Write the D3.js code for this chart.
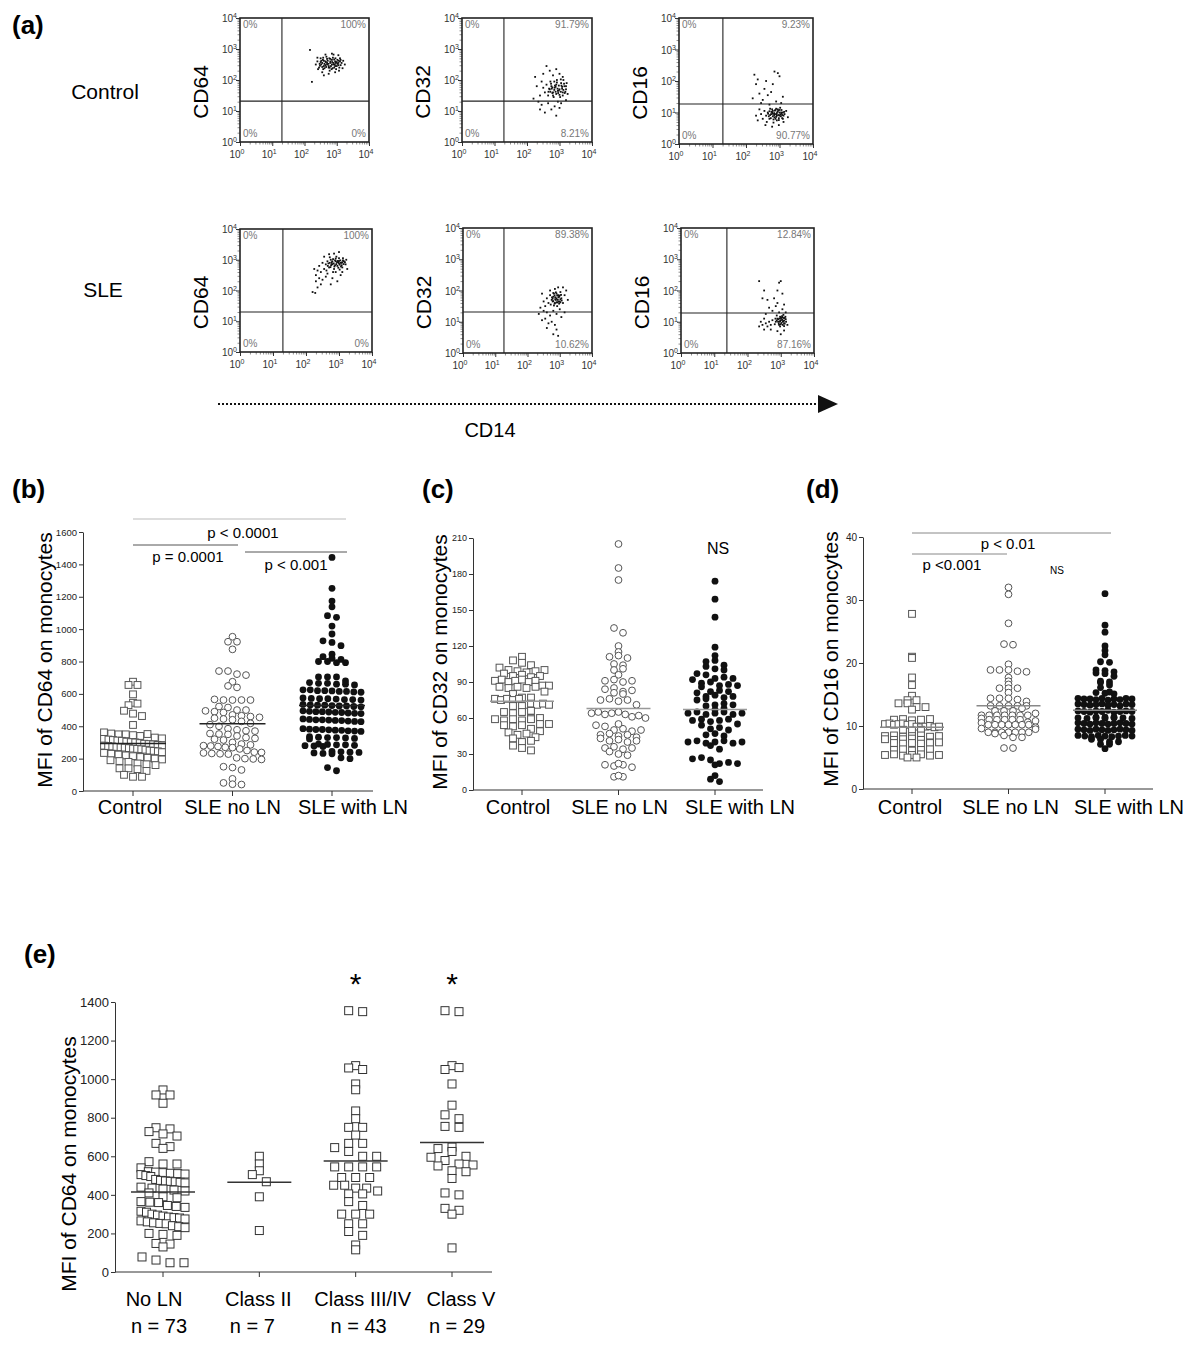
<!DOCTYPE html>
<html lang="en">
  <head>
    <meta charset="UTF-8" />
    <title>CD64 / CD32 / CD16 on monocytes</title>
    <script src="https://d3js.org/d3.v7.min.js"></script>
    <style>
      body { margin: 0; background: #fff; }
      text { font-family: "Liberation Sans", Arial, Helvetica, sans-serif; }
    </style>
  </head>
  <body>
    <script>
      // ---------- data: (a) flow cytometry, log10 units [CD14, marker] ----------
      const fcCtrlCD64 = [[2.55,2.55],[2.6,2.45],[2.65,2.6],[2.7,2.5],[2.75,2.4],[2.8,2.55],[2.85,2.65],[2.9,2.5],[2.95,2.6],[3.0,2.45],[3.05,2.55],[3.1,2.7],[2.5,2.7],[2.45,2.4],[2.4,2.6],[2.58,2.35],[2.68,2.75],[2.78,2.3],[2.88,2.72],[2.98,2.35],[3.08,2.4],[3.15,2.55],[3.2,2.62],[2.52,2.5],[2.62,2.52],[2.72,2.62],[2.82,2.45],[2.92,2.4],[3.02,2.65],[3.12,2.48],[2.47,2.52],[2.57,2.65],[2.67,2.42],[2.77,2.7],[2.87,2.38],[2.97,2.55],[3.07,2.3],[2.42,2.35],[2.55,2.25],[2.75,2.2],[2.95,2.25],[3.05,2.8],[2.65,2.82],[2.85,2.85],[2.35,2.5],[3.25,2.5],[2.17,2.97],[2.23,1.94],[2.6,2.15],[2.9,2.82],[2.4,2.72],[3.18,2.38],
        [2.5,2.58],[2.6,2.62],[2.7,2.55],[2.8,2.6],[2.9,2.55],[3.0,2.58],[3.1,2.6],[2.55,2.42],[2.65,2.48],[2.75,2.45],[2.85,2.5],[2.95,2.45],[3.05,2.48],[2.58,2.72],[2.7,2.68],[2.8,2.68],[2.92,2.66],[3.02,2.52],[2.62,2.38],[2.84,2.35],[2.96,2.7],[3.12,2.65],[2.52,2.62],[2.74,2.52],[2.86,2.58],[2.66,2.58],[3.06,2.62],[2.94,2.5],[2.78,2.4],[2.48,2.46]];
      const fcCtrlCD32 = [[2.7,1.7],[2.75,1.8],[2.8,1.6],[2.85,1.75],[2.9,1.85],[2.95,1.65],[3.0,1.7],[3.05,1.9],[3.1,1.6],[3.15,1.8],[3.2,1.7],[3.25,1.55],[2.65,1.5],[2.72,1.95],[2.82,1.45],[2.92,2.0],[3.02,1.45],[3.12,2.0],[3.22,1.9],[2.6,1.85],[2.55,1.6],[2.5,1.75],[2.45,1.95],[2.4,1.5],[2.35,1.3],[2.3,1.8],[2.25,2.1],[2.2,1.4],[2.5,2.2],[2.7,2.3],[2.9,2.35],[2.6,2.45],[3.0,2.2],[2.8,2.15],[3.1,2.1],[2.45,1.2],[2.65,1.25],[2.85,1.15],[2.95,1.3],[3.05,1.25],[3.2,1.35],[2.75,1.05],[2.55,0.95],[2.9,0.85],[2.4,1.05],[3.0,1.1],[2.88,1.62],[2.98,1.82],[3.08,1.72],[2.78,1.58],[3.18,1.62],[2.68,1.72],
        [2.72,1.62],[2.76,1.72],[2.84,1.68],[2.86,1.82],[2.94,1.72],[2.96,1.58],[3.04,1.62],[3.06,1.82],[3.12,1.68],[3.14,1.88],[2.74,1.88],[2.8,1.5],[2.9,1.55],[3.0,1.52],[3.1,1.5],[3.2,1.8],[2.66,1.62],[2.92,1.92],[3.04,2.02],[2.84,1.95],[3.16,1.58],[2.98,1.66],[2.88,1.78],[3.08,1.78],[2.78,1.76]];
      const fcCtrlCD16 = [[2.6,0.9],[2.65,1.0],[2.7,0.8],[2.75,0.95],[2.8,1.05],[2.85,0.85],[2.9,0.95],[2.95,1.1],[3.0,0.9],[3.05,1.0],[3.1,0.8],[3.15,0.95],[3.2,1.05],[2.62,0.7],[2.72,1.12],[2.82,0.68],[2.92,0.75],[3.02,1.15],[3.12,0.7],[2.68,0.88],[2.78,1.0],[2.88,1.08],[2.98,0.82],[3.08,0.92],[2.55,1.05],[2.5,0.8],[2.45,0.95],[2.4,1.1],[2.35,0.75],[2.3,0.9],[2.58,0.6],[2.78,0.55],[2.98,0.6],[3.25,0.85],[2.7,1.25],[2.9,1.35],[3.05,1.3],[2.5,1.4],[2.4,1.6],[2.3,1.9],[2.25,2.2],[2.35,2.05],[2.55,1.75],[2.65,1.55],[2.8,1.9],[2.85,2.3],[2.95,2.25],[3.0,2.15],[2.6,2.0],[2.75,1.65],[3.1,1.5],[2.45,1.3],[2.2,1.45],[2.92,0.98],[2.84,0.92],
        [2.72,0.92],[2.76,1.02],[2.8,0.88],[2.84,0.98],[2.86,1.06],[2.9,0.86],[2.94,1.02],[2.96,0.92],[3.0,1.0],[3.04,0.88],[3.06,1.08],[3.1,1.0],[3.12,0.9],[2.74,0.82],[2.82,0.78],[2.88,0.8],[2.98,0.76],[3.08,0.82],[2.7,1.04],[2.78,1.1],[2.9,1.12],[3.0,1.08],[3.14,1.02],[2.66,0.96],[2.86,0.94],[2.96,1.06],[3.02,0.94],[2.8,0.96],[2.92,0.9],[3.06,0.96]];
      const fcSleCD64 = [[2.6,2.85],[2.65,2.95],[2.7,2.75],[2.75,3.0],[2.8,2.85],[2.85,2.7],[2.9,2.95],[2.95,2.8],[3.0,3.05],[3.05,2.9],[3.1,2.75],[3.15,2.95],[3.2,2.85],[2.62,2.65],[2.72,3.08],[2.82,2.6],[2.92,3.1],[3.02,2.68],[3.12,3.05],[2.68,2.88],[2.78,2.92],[2.88,2.82],[2.98,2.92],[3.08,2.82],[2.55,2.7],[2.5,2.9],[2.45,2.6],[2.4,2.8],[2.35,2.65],[2.3,2.5],[2.25,2.7],[2.55,3.1],[2.85,3.2],[3.0,3.25],[2.7,3.18],[3.25,2.7],[3.22,3.0],[2.4,2.4],[2.3,2.3],[2.45,2.2],[2.35,2.1],[2.5,2.35],[2.6,2.45],[2.8,2.4],[2.95,2.3],[3.05,2.5],[2.2,1.95],[2.28,1.92],[2.75,2.2],[2.65,2.55],[2.9,2.6],[3.1,2.6],
        [2.72,2.9],[2.76,2.82],[2.8,2.95],[2.84,2.88],[2.88,2.98],[2.92,2.86],[2.96,2.96],[3.0,2.88],[3.04,2.98],[3.08,2.9],[3.12,2.98],[3.14,2.86],[2.74,2.76],[2.86,2.78],[2.98,2.74],[3.06,2.78],[2.9,3.04],[3.0,2.96],[2.82,3.02],[3.1,2.92],[2.94,2.92],[2.78,2.86],[3.02,2.84],[2.66,2.8],[3.18,2.92]];
      const fcSleCD32 = [[2.75,1.7],[2.8,1.8],[2.85,1.6],[2.9,1.75],[2.95,1.85],[3.0,1.65],[3.05,1.75],[2.72,1.55],[2.82,1.9],[2.92,1.5],[3.02,1.95],[3.1,1.6],[2.78,1.65],[2.88,1.7],[2.98,1.8],[2.7,1.85],[2.65,1.6],[2.6,1.75],[2.55,1.5],[2.5,1.65],[2.45,1.9],[3.15,1.85],[3.2,2.0],[3.25,1.7],[2.85,2.05],[2.95,2.1],[2.7,2.0],[3.1,2.1],[2.6,1.3],[2.7,1.2],[2.8,1.35],[2.9,1.25],[3.0,1.4],[2.5,1.35],[2.4,1.45],[2.35,1.25],[2.55,1.1],[2.75,1.0],[2.85,0.9],[2.65,0.95],[2.9,0.75],[2.8,0.6],[2.95,0.55],[2.6,0.8],[3.05,1.15],[3.15,1.3],[2.45,1.05],[2.92,1.62],[2.82,1.52],[3.02,1.72],
        [2.76,1.78],[2.8,1.66],[2.84,1.84],[2.86,1.72],[2.9,1.62],[2.92,1.84],[2.94,1.7],[2.96,1.78],[3.0,1.84],[3.02,1.62],[3.04,1.86],[2.8,1.92],[2.88,1.94],[2.84,1.58],[2.98,1.58],[2.9,1.9],[2.78,1.74],[3.06,1.68],[2.86,1.78],[2.96,1.64]];
      const fcSleCD16 = [[2.85,1.0],[2.9,1.1],[2.95,0.9],[3.0,1.05],[3.05,1.15],[3.1,0.95],[3.15,1.08],[2.88,1.2],[2.98,0.85],[3.08,1.22],[3.2,0.9],[2.92,1.0],[3.02,1.12],[2.82,0.92],[2.75,1.05],[2.7,0.9],[2.65,1.0],[2.6,0.85],[2.55,0.95],[2.5,1.1],[2.45,0.9],[2.4,1.0],[2.35,0.85],[2.5,0.75],[2.7,0.75],[2.9,0.7],[3.1,0.72],[3.0,0.6],[2.95,1.3],[3.05,1.4],[2.85,1.5],[2.75,1.35],[2.9,1.6],[3.1,1.55],[2.8,1.75],[2.6,1.7],[2.45,1.75],[2.5,2.0],[2.35,2.3],[2.95,2.25],[3.0,2.3],[2.9,2.0],[3.05,1.9],[2.65,1.45],[2.55,1.25],[3.15,1.3],[2.98,1.02],[3.08,1.02],[3.12,1.12],
        [2.92,1.08],[2.96,1.0],[3.0,1.12],[3.02,0.96],[3.04,1.06],[3.06,0.9],[3.08,1.12],[3.1,1.04],[3.12,0.94],[3.14,1.16],[2.94,0.94],[2.98,1.16],[3.0,0.92],[3.04,1.18],[3.1,0.86],[2.88,1.04],[2.84,1.1],[3.16,1.0],[2.96,1.1],[3.06,1.0]];
      const fcGates = [[1.3,1.32],[1.29,1.32],[1.31,1.27],[1.3,1.3],[1.27,1.31],[1.38,1.28]];
      const fcPct = [["0%","100%","0%","0%"],["0%","91.79%","0%","8.21%"],["0%","9.23%","0%","90.77%"],
                     ["0%","100%","0%","0%"],["0%","89.38%","0%","10.62%"],["0%","12.84%","0%","87.16%"]];
      const fcMarkers = ["CD64","CD32","CD16","CD64","CD32","CD16"];
      const fcRows = ["Control","SLE"];
      const decades = [0,1,2,3,4];

      // ---------- data: (b)-(d) ----------
      const groups3 = ["Control","SLE no LN","SLE with LN"];
      const cd64Control = [675,655,655,597,545,530,540,496,478,463,408,362,355,350,350,345,340,352,330,325,322,318,315,312,310,305,302,300,296,292,290,288,285,282,280,278,275,272,270,268,265,262,260,258,255,250,248,245,240,235,230,225,220,215,210,205,200,195,190,185,180,170,165,160,140,140,135,124,100,88,88];
      const cd64NoLN = [953,922,922,875,741,741,722,716,675,649,640,566,562,562,562,562,522,516,500,500,495,490,485,470,465,460,455,450,445,440,430,418,410,400,385,378,372,370,355,352,350,340,330,325,320,315,300,290,285,280,278,275,270,268,260,250,240,238,235,232,230,228,205,200,198,195,150,145,130,75,50,42,40];
      const cd64WithLN = [1443,1252,1173,1138,1083,1073,1019,970,928,918,898,845,830,820,813,800,800,793,793,705,705,705,680,670,665,665,660,660,655,625,625,620,620,618,615,615,612,610,575,572,570,570,568,565,565,562,535,532,530,530,528,525,525,522,520,495,492,490,490,488,486,485,482,480,478,445,442,440,440,438,436,435,432,430,428,385,382,380,380,378,376,375,372,370,368,335,332,330,330,328,325,322,290,288,285,285,282,280,278,275,245,242,240,238,235,232,230,205,200,145,125];
      const cd64Medians = [293,415,528];

      const cd32Control = [111,108,106,104,102,100,99,98,99,100,97,95,96,94,95,91,92,90,91,92,90,91,86,87,85,86,87,85,86,82,80,76,77,75,76,77,75,76,71,72,70,71,72,70,71,65,66,64,65,59,60,58,59,60,58,59,54,55,53,54,55,51,48,49,46,47,44,43,40,41,37,35,33];
      const cd32NoLN = [205,185,175,135,131,120,115,111,112,110,105,104,100,101,96,91,92,90,91,84,85,82,83,81,80,75,76,74,75,71,64,65,63,64,65,63,61,62,60,54,55,53,50,51,49,50,46,47,45,46,44,43,41,42,40,41,35,36,34,35,32,30,29,21,22,20,21,19,11,12,11];
      const cd32WithLN = [174,159,144,119,112,107,108,104,103,101,100,97,96,93,94,92,93,89,90,87,88,86,87,82,83,81,82,78,79,77,78,75,76,71,72,70,71,67,68,64,65,63,64,65,63,64,58,59,57,58,59,54,55,51,52,50,46,47,45,40,41,39,40,41,39,40,37,34,26,27,25,22,23,21,22,12,9,7];
      const cd32Medians = [74,68,67];

      const cd16Control = [27.8,21,20.8,17.7,16.5,14.8,14.1,14.1,13.6,13.6,13,13,12.6,11,11.1,10.9,11,11.1,10.3,10.4,10.2,10.3,10.4,10.2,10.3,9.9,9.8,9.9,10,9.8,9.9,9.4,9.3,9.4,8.4,8.5,8.3,8.4,8.5,8.3,8.4,7.9,7.8,7.9,8,7.8,7.3,7.4,7.2,7.3,7.4,7.2,7.3,6.2,6.3,6.1,6.2,6.3,5.4,5.5,5.3,5.4,5.5,5.3,5.4,5,5];
      const cd16NoLN = [32,30.9,26.3,23,22.9,19.8,18.9,18.9,18.9,18.7,18.6,17.7,17.1,16.6,16,16,16,15.3,14.4,14.4,14.4,14.2,13.9,13.2,13.2,13.2,13.2,13.2,12.4,12.4,12.4,11.7,11.7,11.7,11.7,11.7,11.7,11.7,11.2,11,11,11,11,11,10.6,10.5,10.2,10.2,10.2,10.2,10.2,10.2,10.2,9.8,9.6,9,9,9,9,9,9,9,8.8,8.5,8.2,8.2,6.5,6.5,12,12.8,10.8,9.5];
      const cd16WithLN = [31,26,24.9,22.7,22,21.3,20.2,20.1,18.9,18.8,18.6,18.4,18.3,17.9,17.1,17,16.9,16.5,16.1,15.4,15.3,15.2,15.1,
        14.4,14.3,14.3,14.2,14.4,14.1,14.3,14.2,14.4,14.3,13.5,13.4,13.3,13.4,13.5,13.3,13.4,13.2,13.5,13.4,
        12.4,12.3,12.2,12.4,12.3,12.5,12.2,12.3,12.4,12.3,11.4,11.3,11.2,11.4,11.3,11.2,11.3,11.4,11.3,11.2,
        10.5,10.4,10.3,10.5,10.4,10.3,10.4,10.5,10.4,10.3,9.5,9.4,9.3,9.5,9.4,9.3,9.4,9.5,9.4,9.3,
        8.5,8.4,8.3,8.5,8.4,8.3,8.4,8.5,8.4,7.9,7.9,7.5,7.5,7.1,7.1,6.4];
      const cd16Medians = [9.8,13.2,12.5];

      // ---------- data: (e) ----------
      const classes = ["No LN","Class II","Class III/IV","Class V"];
      const classN = ["n = 73","n = 7","n = 43","n = 29"];
      const eNoLN = [944,918,918,875,748,742,728,716,705,667,650,641,572,560,560,540,520,518,515,512,510,508,505,500,495,480,475,472,470,468,465,462,440,435,430,425,420,410,390,385,365,362,360,345,340,335,315,310,300,295,290,285,282,280,275,265,260,255,252,250,240,235,230,200,195,190,148,145,130,78,62,48,48];
      const eClassII = [600,560,525,505,468,390,215];
      const eClassIII = [1355,1350,1070,1058,1050,975,945,835,795,750,750,710,667,667,645,625,600,600,545,545,545,545,490,490,490,450,450,435,435,420,405,405,365,345,300,300,300,250,250,210,190,140,115];
      const eClassV = [1355,1350,1070,1050,1060,975,865,815,795,755,750,648,640,625,600,595,578,560,555,550,525,520,485,410,400,330,320,300,125];
      const eMedians = [415,465,575,672];
      const eStars = ["","","*","*"];

      const svg = d3.select("body").append("svg").attr("width", 1200).attr("height", 1351);
      svg.append("rect").attr("width", 1200).attr("height", 1351).attr("fill", "#fff");

      function panelLabel(txt, x, y) {
        svg.append("text").attr("x", x).attr("y", y).attr("font-size", 26)
          .attr("font-weight", "bold").text(txt);
      }

      // ---------- (a) ----------
      const frames = [
        {x:240,y:18,w:129,h:124},{x:462,y:18,w:130,h:124},{x:679,y:18,w:134,h:126},
        {x:240,y:229,w:132,h:123},{x:463,y:228,w:129,h:125},{x:681,y:228,w:133,h:125}
      ];
      const fcData = [fcCtrlCD64, fcCtrlCD32, fcCtrlCD16, fcSleCD64, fcSleCD32, fcSleCD16];
      const minors = [];
      for (let d = 0; d < 4; d++) for (let k = 2; k < 10; k++) minors.push(d + Math.log10(k));

      function supLabel(sel, exp) {
        sel.append("tspan").text("10");
        sel.append("tspan").attr("dy", -4).attr("font-size", 7).text(exp);
      }

      frames.forEach((f, i) => {
        const x = d3.scaleLinear().domain([0, 4]).range([f.x, f.x + f.w]);
        const y = d3.scaleLinear().domain([0, 4]).range([f.y + f.h, f.y]);
        const g = svg.append("g");

        // minor + major ticks
        g.append("g").attr("transform", `translate(${f.x},0)`)
          .call(d3.axisLeft(y).tickValues(minors).tickSize(2.5).tickFormat("").tickSizeOuter(0))
          .call(a => a.select(".domain").remove()).selectAll("line").attr("stroke", "#444").attr("stroke-width", 0.6);
        g.append("g").attr("transform", `translate(${f.x},0)`)
          .call(d3.axisLeft(y).tickValues(decades).tickSize(4).tickFormat("").tickSizeOuter(0))
          .call(a => a.select(".domain").remove()).selectAll("line").attr("stroke", "#333");
        g.append("g").attr("transform", `translate(0,${f.y + f.h})`)
          .call(d3.axisBottom(x).tickValues(minors).tickSize(2.5).tickFormat("").tickSizeOuter(0))
          .call(a => a.select(".domain").remove()).selectAll("line").attr("stroke", "#444").attr("stroke-width", 0.6);
        g.append("g").attr("transform", `translate(0,${f.y + f.h})`)
          .call(d3.axisBottom(x).tickValues(decades).tickSize(4).tickFormat("").tickSizeOuter(0))
          .call(a => a.select(".domain").remove()).selectAll("line").attr("stroke", "#333");

        decades.forEach(d => {
          supLabel(g.append("text").attr("x", f.x - 3).attr("y", y(d) + 4)
            .attr("text-anchor", "end").attr("font-size", 10).attr("fill", "#333"), d);
          supLabel(g.append("text").attr("x", x(d) - 3).attr("y", f.y + f.h + 16)
            .attr("text-anchor", "middle").attr("font-size", 10).attr("fill", "#333"), d);
        });

        // events
        g.selectAll("rect.ev").data(fcData[i]).join("rect").attr("class", "ev")
          .attr("x", d => x(d[0]) - 0.9).attr("y", d => y(d[1]) - 0.9)
          .attr("width", 1.8).attr("height", 1.8).attr("fill", "#111");

        // quadrant gates
        const [gx, gy] = fcGates[i];
        g.append("line").attr("x1", x(gx)).attr("x2", x(gx)).attr("y1", f.y).attr("y2", f.y + f.h)
          .attr("stroke", "#222").attr("stroke-width", 1.1);
        g.append("line").attr("x1", f.x).attr("x2", f.x + f.w).attr("y1", y(gy)).attr("y2", y(gy))
          .attr("stroke", "#222").attr("stroke-width", 1.1);
        g.append("rect").attr("x", f.x).attr("y", f.y).attr("width", f.w).attr("height", f.h)
          .attr("fill", "none").attr("stroke", "#222").attr("stroke-width", 1.6);

        // quadrant percentages
        const pct = fcPct[i];
        const pctStyle = s => s.attr("font-family", "'DejaVu Sans Mono', monospace")
          .attr("font-size", 10).attr("fill", "#777");
        pctStyle(g.append("text").attr("x", f.x + 3).attr("y", f.y + 10).text(pct[0]));
        pctStyle(g.append("text").attr("x", f.x + f.w - 3).attr("y", f.y + 10).attr("text-anchor", "end").text(pct[1]));
        pctStyle(g.append("text").attr("x", f.x + 3).attr("y", f.y + f.h - 5).text(pct[2]));
        pctStyle(g.append("text").attr("x", f.x + f.w - 3).attr("y", f.y + f.h - 5).attr("text-anchor", "end").text(pct[3]));

        g.append("text").attr("transform", `translate(${f.x - 32},${f.y + f.h / 2 + 12}) rotate(-90)`)
          .attr("text-anchor", "middle").attr("font-size", 21).text(fcMarkers[i]);
      });

      svg.append("text").attr("x", 105).attr("y", 99).attr("text-anchor", "middle").attr("font-size", 21).text(fcRows[0]);
      svg.append("text").attr("x", 103).attr("y", 297).attr("text-anchor", "middle").attr("font-size", 21).text(fcRows[1]);

      // CD14 arrow
      svg.append("line").attr("x1", 218).attr("x2", 820).attr("y1", 404).attr("y2", 404)
        .attr("stroke", "#111").attr("stroke-width", 2).attr("stroke-dasharray", "2,2");
      svg.append("path").attr("d", "M818,395 L838,404 L818,413 Z").attr("fill", "#111");
      svg.append("text").attr("x", 490).attr("y", 437).attr("text-anchor", "middle").attr("font-size", 20).text("CD14");
      panelLabel("(a)", 12, 34);

      // ---------- column scatter helpers ----------
      function swarm(vals, y, cx, sx, sy, maxW) {
        const rows = d3.groups(vals.map(v => ({ v, py: y(v) })), d => Math.round(d.py / sy));
        const out = [];
        rows.forEach(([, arr]) => {
          const n = arr.length;
          const s = n > 1 ? Math.min(sx, maxW / (n - 1)) : 0;
          arr.forEach((d, i) => out.push({ v: d.v, px: cx + (i - (n - 1) / 2) * s, py: d.py }));
        });
        return out;
      }

      function drawMarks(g, pts, shape, size) {
        if (shape === "square") {
          g.selectAll(null).data(pts).join("rect")
            .attr("x", d => d.px - size / 2).attr("y", d => d.py - size / 2)
            .attr("width", size).attr("height", size)
            .attr("fill", "#fff").attr("stroke", "#555").attr("stroke-width", 1);
        } else if (shape === "circle") {
          g.selectAll(null).data(pts).join("circle")
            .attr("cx", d => d.px).attr("cy", d => d.py).attr("r", size / 2)
            .attr("fill", "#fff").attr("stroke", "#555").attr("stroke-width", 1);
        } else {
          g.selectAll(null).data(pts).join("circle")
            .attr("cx", d => d.px).attr("cy", d => d.py).attr("r", size / 2).attr("fill", "#111");
        }
      }

      function dotPanel(p) {
        const g = svg.append("g");
        const y = d3.scaleLinear().domain([0, p.max]).range([p.bot, p.top]);
        const x = d3.scalePoint().domain(p.cats).range([p.catL, p.catR]);

        const ax = g.append("g").attr("transform", `translate(${p.ax},0)`)
          .call(d3.axisLeft(y).tickValues(d3.range(0, p.max + 1, p.step)).tickFormat(d3.format("d"))
            .tickSize(4).tickPadding(2).tickSizeOuter(0));
        ax.selectAll("path,line").attr("stroke", "#333");
        ax.selectAll("text").attr("font-size", p.tickFont).attr("fill", "#222")
          .attr("font-family", "'Liberation Sans', Arial, sans-serif");

        g.append("line").attr("x1", p.ax).attr("x2", p.end).attr("y1", p.bot).attr("y2", p.bot).attr("stroke", "#333");
        g.selectAll(null).data(p.cats).join("line")
          .attr("x1", d => x(d)).attr("x2", d => x(d)).attr("y1", p.bot).attr("y2", p.bot + 5).attr("stroke", "#333");
        g.selectAll(null).data(p.cats).join("text")
          .attr("x", (d, i) => x(d) + p.catShift[i]).attr("y", p.catY)
          .attr("text-anchor", "middle").attr("font-size", 20).text(d => d);

        p.groups.forEach((vals, i) => {
          const pts = swarm(vals, y, x(p.cats[i]), p.sx, p.sy, p.maxW);
          drawMarks(g, pts, p.shapes[i], p.size);
          g.append("line").attr("x1", x(p.cats[i]) - p.medHalf).attr("x2", x(p.cats[i]) + p.medHalf)
            .attr("y1", y(p.medians[i])).attr("y2", y(p.medians[i]))
            .attr("stroke", p.medColor).attr("stroke-width", 1.5);
        });

        g.append("text").attr("transform", `translate(${p.ylx},${p.lyc}) rotate(-90)`)
          .attr("text-anchor", "middle").attr("font-size", 21).text("MFI of " + p.marker + " on monocytes");
        return { x, y, g };
      }

      // ---------- (b) ----------
      const pb = dotPanel({ ax: 83, top: 532, bot: 791, end: 373, max: 1600, step: 200, tickFont: 9.5,
        cats: groups3, catL: 133, catR: 332, catY: 814, catShift: [-3, 0, 21],
        groups: [cd64Control, cd64NoLN, cd64WithLN],
        shapes: ["square", "circle", "dot"], size: 6.8, sx: 9, sy: 7, maxW: 58, medians: cd64Medians,
        medHalf: 33, medColor: "#222", ylx: 52, lyc: 660, marker: "CD64" });
      panelLabel("(b)", 12, 498);
      const sig = (x1, x2, yy, c) => svg.append("line").attr("x1", x1).attr("x2", x2).attr("y1", yy).attr("y2", yy)
        .attr("stroke", c).attr("stroke-width", 1);
      const ptxt = (t, xx, yy, fs) => svg.append("text").attr("x", xx).attr("y", yy)
        .attr("text-anchor", "middle").attr("font-size", fs).text(t);
      sig(pb.x("Control"), 346, 519, "#bbb");
      sig(pb.x("Control"), 238, 545, "#555");
      sig(245, 347, 552, "#555");
      ptxt("p < 0.0001", 243, 538, 15);
      ptxt("p = 0.0001", 188, 562, 15);
      ptxt("p < 0.001", 296, 570, 15);

      // ---------- (c) ----------
      dotPanel({ ax: 473, top: 538, bot: 790, end: 763, max: 210, step: 30, tickFont: 9,
        cats: groups3, catL: 522, catR: 715, catY: 814, catShift: [-4, 1, 25],
        groups: [cd32Control, cd32NoLN, cd32WithLN],
        shapes: ["square", "circle", "dot"], size: 6.8, sx: 9, sy: 6.5, maxW: 54, medians: cd32Medians,
        medHalf: 32, medColor: "#999", ylx: 447, lyc: 662, marker: "CD32" });
      panelLabel("(c)", 422, 498);
      ptxt("NS", 718, 554, 16);

      // ---------- (d) ----------
      const pd = dotPanel({ ax: 863, top: 537, bot: 789, end: 1153, max: 40, step: 10, tickFont: 10,
        cats: groups3, catL: 912, catR: 1105, catY: 814, catShift: [-2, 2, 24],
        groups: [cd16Control, cd16NoLN, cd16WithLN],
        shapes: ["square", "circle", "dot"], size: 6.8, sx: 9, sy: 5, maxW: 54, medians: cd16Medians,
        medHalf: 32, medColor: "#888", ylx: 838, lyc: 659, marker: "CD16" });
      panelLabel("(d)", 806, 498);
      sig(pd.x("Control"), 1111, 533, "#888");
      sig(pd.x("Control"), 1007, 554, "#888");
      ptxt("p < 0.01", 1008, 549, 15);
      ptxt("p <0.001", 952, 570, 15);
      ptxt("NS", 1057, 574, 10);

      // ---------- (e) ----------
      const pe = dotPanel({ ax: 115, top: 1002, bot: 1272, end: 492, max: 1400, step: 200, tickFont: 13,
        cats: classes, catL: 163, catR: 452, catY: 1306, catShift: [-9, -1, 7, 9],
        groups: [eNoLN, eClassII, eClassIII, eClassV],
        shapes: ["square", "square", "square", "square"], size: 8, sx: 14, sy: 9, maxW: 44, medians: eMedians,
        medHalf: 32, medColor: "#333", ylx: 76, lyc: 1164, marker: "CD64" });
      pe.g.selectAll("rect").attr("stroke", "#333");
      panelLabel("(e)", 24, 963);
      const nShift = [-4, -7, 3, 5];
      classN.forEach((t, i) => ptxt(t, pe.x(classes[i]) + nShift[i], 1333, 20));
      eStars.forEach((t, i) => { if (t) ptxt(t, pe.x(classes[i]), 994, 30); });
    </script>
  </body>
</html>
